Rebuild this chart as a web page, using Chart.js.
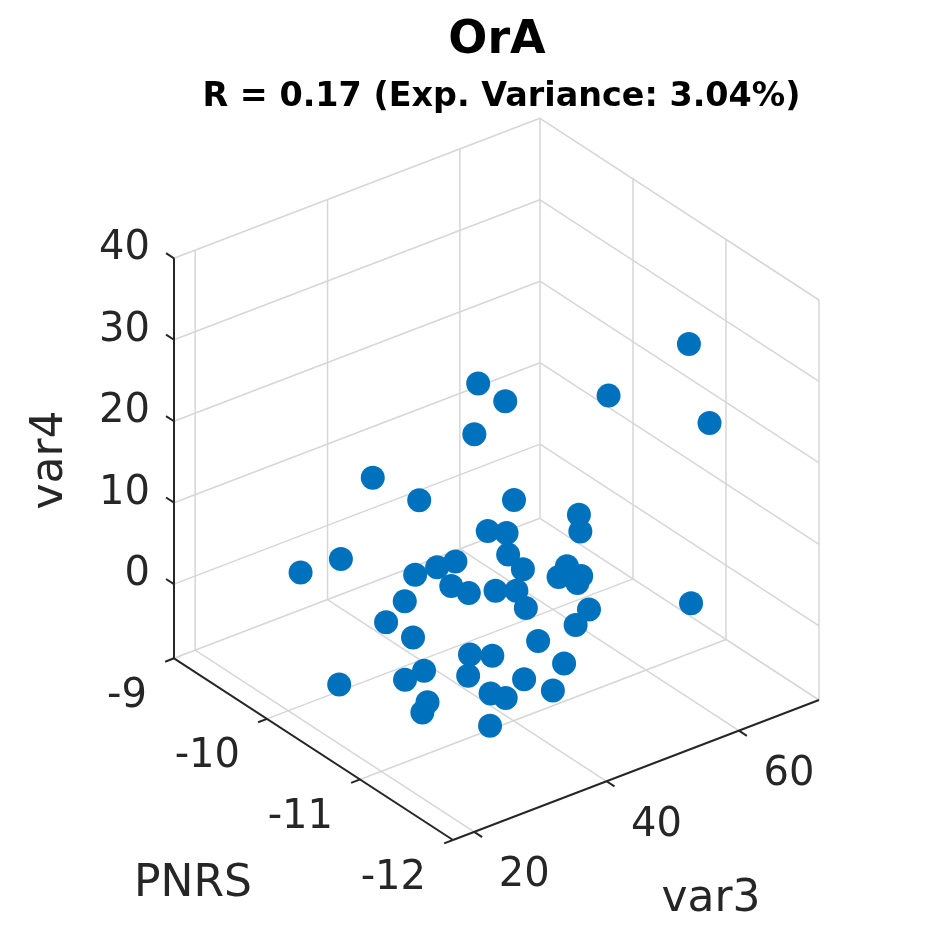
<!DOCTYPE html>
<html>
<head>
<meta charset="utf-8">
<script src="https://cdn.jsdelivr.net/npm/chart.js@4.4.1/dist/chart.umd.min.js"></script>
<style>html,body{margin:0;padding:0;background:#fff;}canvas{display:block;}</style>
</head>
<body>
<canvas id="c" width="945" height="945"></canvas>
<script>
// ---- data (3-D scatter: PNRS, var3, var4) ----
const pnrs = [-10.2, -10.0, -10.5, -10.2, -11.0, -11.2, -9.6, -10.0, -10.4, -10.6,
              -10.9, -11.0, -9.9, -9.5, -9.3, -10.7, -11.3, -9.7, -10.1, -9.4,
              -10.3, -11.1, -11.5, -10.0, -10.8, -9.8, -10.5, -11.6, -10.2, -11.0,
              -10.6, -11.4, -10.3, -9.9, -11.2, -11.4, -10.9, -11.8, -11.2, -11.7,
              -10.6, -11.1, -10.2, -11.0, -11.5, -11.6, -11.3, -10.9, -11.8, -11.9];
const var3 = [45.9, 52.8, 41.1, 65.6, 66.5, 66.8, 38.4, 39.8, 48.5, 55.5,
              51.5, 36.1, 54.4, 28.9, 37.8, 43.4, 37.2, 43.4, 41.1, 53.7,
              57.9, 45.4, 43.2, 63.7, 33.4, 50.1, 44.3, 32.0, 53.1, 51.4,
              55.0, 61.2, 33.4, 36.2, 22.0, 27.8, 38.2, 21.9, 40.9, 37.8,
              32.1, 22.2, 24.9, 27.0, 19.2, 28.1, 34.6, 43.0, 34.7, 23.8];
const var4 = [24.5, 18.7, 22.0, 16.9, 28.9, 20.6, 10.8, 10.6, 10.9, 8.4,
              9.8, 15.4, 1.3, 1.4, -1.2, 8.0, 12.6, -1.9, 2.7, -5.7,
              -0.9, 7.6, 11.4, -7.0, 8.0, -5.5, 1.8, 13.8, -5.3, 1.0,
              -5.0, 1.7, 2.4, -4.0, 8.2, 5.8, -1.3, 8.0, 1.9, 3.8,
              -3.5, 2.2, -5.9, -2.8, 2.1, 2.4, -2.4, -5.7, 2.2, 2.0];

// axis limits and ticks
const PNRS_LIM = [-12, -9];
const VAR3_LIM = [16.8, 72.1];
const VAR4_LIM = [-9.1, 40];
const PNRS_TICKS = [-12, -11, -10, -9];
const VAR3_TICKS = [20, 40, 60];
const VAR4_TICKS = [0, 10, 20, 30, 40];

const TITLE = 'OrA';
const SUBTITLE = 'R = 0.17 (Exp. Variance: 3.04%)';

// ---- view (orthographic projection of the 3-D box) ----
const VIEW = {
  origin: {x: 174, y: 658.3},   // PNRS max, var3 min, var4 min
  pAxis:  {x: 279, y: 181.7},   // full PNRS range (max -> min)
  vAxis:  {x: 366, y: -140},    // full var3 range
  zAxis:  {x: 0,   y: -400}     // full var4 range
};
function project(p, v, z) {
  const t = (PNRS_LIM[1] - p) / (PNRS_LIM[1] - PNRS_LIM[0]);
  const s = (v - VAR3_LIM[0]) / (VAR3_LIM[1] - VAR3_LIM[0]);
  const u = (z - VAR4_LIM[0]) / (VAR4_LIM[1] - VAR4_LIM[0]);
  return {
    x: VIEW.origin.x + VIEW.pAxis.x * t + VIEW.vAxis.x * s + VIEW.zAxis.x * u,
    y: VIEW.origin.y + VIEW.pAxis.y * t + VIEW.vAxis.y * s + VIEW.zAxis.y * u
  };
}

const points = pnrs.map((p, i) => project(p, var3[i], var4[i]));

const FONT = '"DejaVu Sans", "Liberation Sans", sans-serif';

const box3d = {
  id: 'box3d',
  beforeDatasetsDraw(chart) {
    const ctx = chart.ctx, xs = chart.scales.x, ys = chart.scales.y;
    const px = (p, v, z) => { const q = project(p, v, z); return [xs.getPixelForValue(q.x), ys.getPixelForValue(q.y)]; };
    const seg = (a, b) => { ctx.beginPath(); ctx.moveTo(a[0], a[1]); ctx.lineTo(b[0], b[1]); ctx.stroke(); };
    const [pMin, pMax] = PNRS_LIM, [vMin, vMax] = VAR3_LIM, [zMin, zMax] = VAR4_LIM;
    ctx.save();
    // grid / back box
    ctx.strokeStyle = '#d6d6d6'; ctx.lineWidth = 1.5;
    [zMin, ...VAR4_TICKS].forEach(z => seg(px(pMax, vMin, z), px(pMax, vMax, z)));
    [...VAR3_TICKS, vMax].forEach(v => seg(px(pMax, v, zMin), px(pMax, v, zMax)));
    [zMin, ...VAR4_TICKS].forEach(z => seg(px(pMax, vMax, z), px(pMin, vMax, z)));
    PNRS_TICKS.filter(p => p < pMax).forEach(p => seg(px(p, vMax, zMin), px(p, vMax, zMax)));
    VAR3_TICKS.forEach(v => seg(px(pMax, v, zMin), px(pMin, v, zMin)));
    PNRS_TICKS.filter(p => p > pMin && p < pMax).forEach(p => seg(px(p, vMin, zMin), px(p, vMax, zMin)));

    // axes
    ctx.strokeStyle = '#262626'; ctx.lineWidth = 2;
    seg(px(pMax, vMin, zMin), px(pMax, vMin, zMax));
    seg(px(pMax, vMin, zMin), px(pMin, vMin, zMin));
    seg(px(pMin, vMin, zMin), px(pMin, vMax, zMin));
    const unit = (a, b) => { const dx = b[0] - a[0], dy = b[1] - a[1], l = Math.hypot(dx, dy); return [dx / l, dy / l]; };
    const tDir = unit(px(pMax, vMin, zMin), px(pMin, vMin, zMin));
    const sDir = unit(px(pMin, vMin, zMin), px(pMin, vMax, zMin));
    const L = 9.5;
    ctx.fillStyle = '#262626';
    ctx.font = '40px ' + FONT;
    ctx.textBaseline = 'alphabetic';
    // var4 ticks
    ctx.textAlign = 'right';
    VAR4_TICKS.forEach(z => {
      const a = px(pMax, vMin, z);
      seg(a, [a[0] - tDir[0] * L, a[1] - tDir[1] * L]);
      ctx.fillText(String(z), a[0] - 24, a[1] + 1);
    });
    // PNRS ticks
    PNRS_TICKS.forEach(p => {
      const a = px(p, vMin, zMin);
      seg(a, [a[0] - sDir[0] * L, a[1] - sDir[1] * L]);
      ctx.fillText(String(p), a[0] - 27, a[1] + 48.6);
    });
    // var3 ticks
    ctx.textAlign = 'center';
    VAR3_TICKS.forEach(v => {
      const a = px(pMin, v, zMin);
      seg(a, [a[0] + tDir[0] * L, a[1] + tDir[1] * L]);
      ctx.fillText(String(v), a[0] + 50, a[1] + 54.6);
    });
    // axis labels
    ctx.font = '44px ' + FONT;
    ctx.textAlign = 'center';
    ctx.fillText('PNRS', 193, 896);
    ctx.fillText('var3', 711, 911);
    ctx.save();
    ctx.translate(62, 460);
    ctx.rotate(-Math.PI / 2);
    ctx.fillText('var4', 0, 0);
    ctx.restore();
    // titles
    ctx.fillStyle = '#000';
    ctx.font = 'bold 46px ' + FONT;
    ctx.fillText(TITLE, 497, 53);
    ctx.font = 'bold 33.4px ' + FONT;
    ctx.fillText(SUBTITLE, 501.5, 106);
    ctx.restore();
  }
};

new Chart(document.getElementById('c').getContext('2d'), {
  type: 'scatter',
  data: {
    datasets: [{
      data: points,
      backgroundColor: '#0072BD',
      borderWidth: 0,
      pointRadius: 12,
      pointHoverRadius: 12,
      pointBorderWidth: 0
    }]
  },
  options: {
    responsive: false,
    devicePixelRatio: 1,
    animation: false,
    events: [],
    clip: false,
    layout: {padding: 0, autoPadding: false},
    plugins: {legend: {display: false}, tooltip: {enabled: false}, title: {display: false}},
    scales: {
      x: {type: 'linear', min: 0, max: 945, display: false},
      y: {type: 'linear', min: 0, max: 945, reverse: true, display: false}
    }
  },
  plugins: [box3d]
});
</script>
</body>
</html>
